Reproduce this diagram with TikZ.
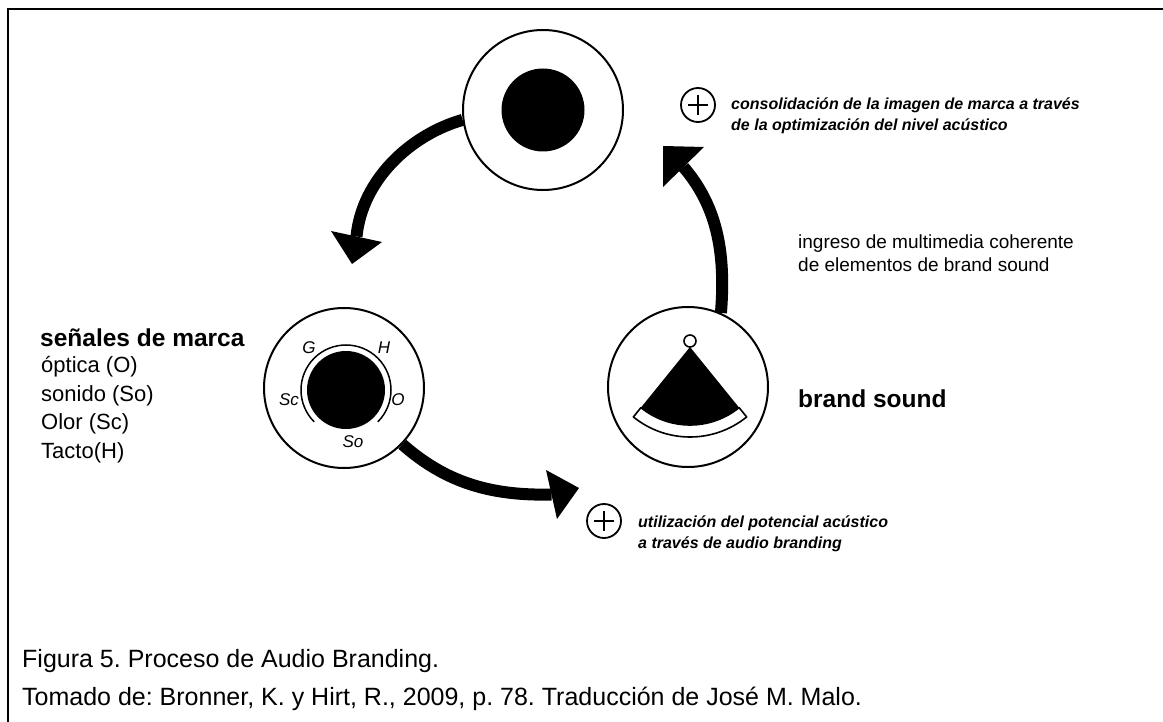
\documentclass[tikz,border=0pt]{standalone}
\usepackage{fontspec}
\setmainfont{Liberation Sans}
\usetikzlibrary{calc}
\begin{document}
\frenchspacing
\begin{tikzpicture}[x=1pt,y=-1pt,
  ring/.style={circle,draw,line width=2pt,inner sep=0pt,minimum size=160pt,fill=white},
  shaft/.style={line width=12pt,line cap=butt},
  plusring/.style={circle,draw,line width=1.8pt,inner sep=0pt,minimum size=34pt},
  lbl/.style={anchor=base west,inner sep=0pt},
  sigtext/.style={inner sep=0pt,font=\itshape\fontsize{17}{19}\selectfont},
  note/.style={lbl,font=\bfseries\itshape\fontsize{16}{19}\selectfont},
  plaintext/.style={lbl,font=\fontsize{19}{22}\selectfont},
  listtext/.style={lbl,font=\fontsize{22}{26}\selectfont},
  captext/.style={lbl,font=\fontsize{25}{29}\selectfont},
  headtext/.style={lbl,font=\bfseries\fontsize{24.5}{28}\selectfont},
]
\useasboundingbox (0,0) rectangle (1163,722);
\draw[line width=2.5pt] (8,722) -- (8,9) -- (1163,9);

% circles
\node[ring] (top) at (543,110) {};
\fill (top.center) circle[radius=41.5];

\node[ring] (sig) at (344,388) {};
\coordinate (sc) at (346,390);
\fill (sc) circle[radius=39];
\draw[line width=1.5pt] ($(sc)+(135:45)$) arc[start angle=135,end angle=405,radius=45];
\node[sigtext] (g) at (309,348) {G};
\node[sigtext] (h) at (384,348) {H};
\node[sigtext] (scl) at (289,400) {Sc};
\node[sigtext] (o) at (398,400) {O};
\node[sigtext] (so) at (353,442) {So};

\node[ring] (bs) at (688,387) {};
\coordinate (apex) at (690,347);
\fill (apex) -- ++(51:78) arc[start angle=51,end angle=129,radius=78] -- cycle;
\draw[line width=1.6pt,line join=round] ($(apex)+(51:78)$) arc[start angle=51,end angle=129,radius=78]
   -- ($(apex)+(129:90)$) arc[start angle=129,end angle=51,radius=90] -- cycle;
\node[circle,draw,fill=white,line width=1.6pt,inner sep=0pt,minimum size=12pt] (knob) at (690,341) {};

% arrow 1 (top -> signals)
\coordinate (h1a) at (331,231);
\coordinate (h1b) at (382,242);
\coordinate (h1t) at (352,264);
\draw[shaft] (top.187) .. controls (410,135) and (362,180) .. ($(h1a)!0.5!(h1b)$);
\fill (h1a) -- (h1b) -- (h1t) -- cycle;

% arrow 2 (signals -> plus)
\coordinate (h2a) at (546,470);
\coordinate (h2b) at (557,519);
\coordinate (h2t) at (579,488);
\draw[shaft] (sig.-44) .. controls (445,482) and (490,496) .. ($(h2a)!0.5!(h2b)$);
\fill (h2a) -- (h2b) -- (h2t) -- cycle;

% arrow 3 (brand sound -> top)
\coordinate (h3a) at (704,147);
\coordinate (h3b) at (663,187);
\coordinate (h3t) at (663,146);
\draw[shaft] (bs.66) .. controls (726,250) and (716,205) .. ($(h3a)!0.5!(h3b)$);
\fill (h3a) -- (h3b) -- (h3t) -- cycle;

% plus signs
\node[plusring] (p1) at (698,105) {};
\draw[line width=1.8pt] ($(p1)+(-10,0)$) -- ($(p1)+(10,0)$) ($(p1)+(0,-10)$) -- ($(p1)+(0,10)$);
\node[plusring] (p2) at (604,521) {};
\draw[line width=1.8pt] ($(p2)+(-10,0)$) -- ($(p2)+(10,0)$) ($(p2)+(0,-10)$) -- ($(p2)+(0,10)$);

% texts
\node[note] (c1) at (731,110) {consolidación de la imagen de marca a través};
\node[note] (c2) at (731,131) {de la optimización del nivel acústico};
\node[note] (u1) at (638,527) {utilización del potencial acústico};
\node[note] (u2) at (638,548) {a través de audio branding};
\node[plaintext] (i1) at (798,249) {ingreso de multimedia coherente};
\node[plaintext] (i2) at (798,272) {de elementos de brand sound};
\node[headtext] (bsl) at (798,407) {brand sound};
\node[headtext] (sm) at (40,347) {señales de marca};
\node[listtext] (l1) at (41,373) {óptica (O)};
\node[listtext] (l2) at (41,401) {sonido (So)};
\node[listtext] (l3) at (41,429) {Olor (Sc)};
\node[listtext] (l4) at (41,458) {Tacto(H)};
\node[captext] (f1) at (22,667) {Figura 5. Proceso de Audio Branding.};
\node[captext] (f2) at (22,705) {Tomado de: Bronner, K. y Hirt, R., 2009, p. 78. Traducción de José M. Malo.};
\end{tikzpicture}
\end{document}
